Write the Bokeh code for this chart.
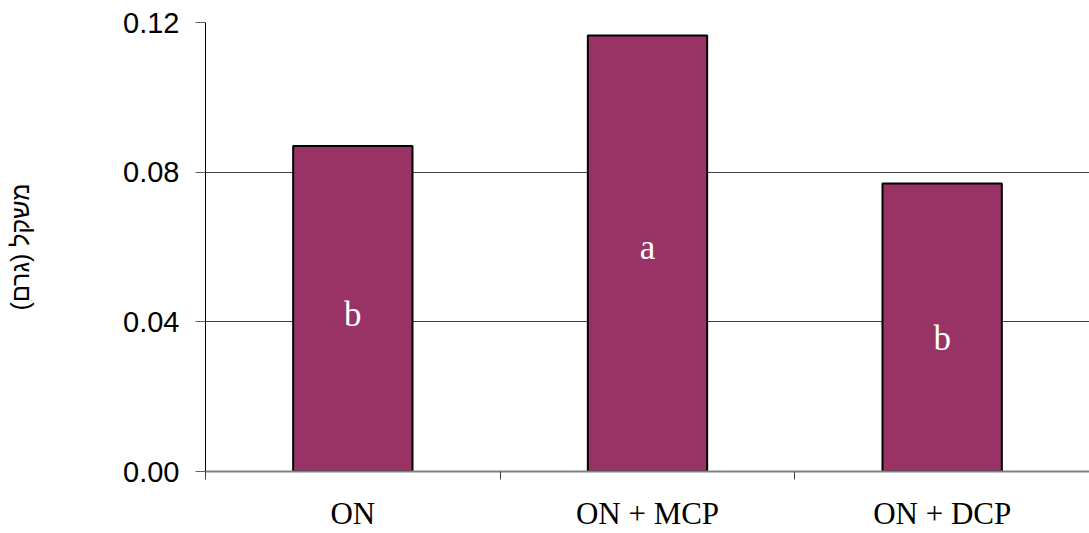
import numpy as np
from bokeh.plotting import figure
from bokeh.models import Range1d, FixedTicker, ColumnDataSource
from bokeh.core.properties import value
from bokeh.embed import file_html
from bokeh.resources import INLINE

# ---- data ----
categories = ["ON", "ON + MCP", "ON + DCP"]
weights = [0.087, 0.1165, 0.077]
letters = ["b", "a", "b"]
letter_y = [0.042, 0.060, 0.0355]
y_ticks = [0.0, 0.04, 0.08, 0.12]
y_label = "משקל (גרם)"

xpos = [i + 0.5 for i in range(len(categories))]

p = figure(width=1089, height=533, output_backend="svg", toolbar_location=None,
           x_range=Range1d(0, len(categories)), y_range=Range1d(0, 0.12),
           min_border_left=205, min_border_right=0, min_border_top=22, min_border_bottom=62)
p.outline_line_color = None
p.background_fill_color = "white"
p.border_fill_color = "white"

src = ColumnDataSource(dict(x=xpos, top=weights, ly=letter_y, lt=letters))
p.vbar(x="x", top="top", width=0.405, source=src, fill_color="#993366",
       line_color="black", line_width=2)
p.text(x="x", y="ly", text="lt", source=src, text_color="white",
       text_font=value("Liberation Serif"), text_font_size="35px",
       text_align="center", text_baseline="middle")

# x axis
p.xaxis.ticker = FixedTicker(ticks=xpos, minor_ticks=[0, 1, 2, 3])
p.xaxis.major_label_overrides = {x: c for x, c in zip(xpos, categories)}
p.xaxis.major_tick_line_color = None
p.xaxis.minor_tick_out = 8
p.xaxis.minor_tick_in = 0
p.xaxis.minor_tick_line_color = "#404040"
p.xaxis.axis_line_color = "#808080"
p.xaxis.axis_line_width = 2
p.xaxis.major_label_text_font = "Liberation Serif"
p.xaxis.major_label_text_font_size = "31px"
p.xaxis.major_label_text_color = "black"
p.xaxis.major_label_standoff = 16

# y axis
p.yaxis.ticker = FixedTicker(ticks=y_ticks)
p.yaxis.major_label_overrides = {t: f"{t:.2f}" for t in y_ticks}
p.yaxis.major_tick_out = 10
p.yaxis.major_tick_in = 0
p.yaxis.major_tick_line_color = "#606060"
p.yaxis.minor_tick_line_color = None
p.yaxis.axis_line_color = "black"
p.yaxis.axis_line_width = 1
p.yaxis.major_label_text_font = "Liberation Sans"
p.yaxis.major_label_text_font_size = "29px"
p.yaxis.major_label_text_color = "black"
p.yaxis.major_label_standoff = 16
p.yaxis.axis_label = y_label
p.yaxis.axis_label_text_font = "Liberation Sans"
p.yaxis.axis_label_text_font_size = "25px"
p.yaxis.axis_label_text_font_style = "normal"
p.yaxis.axis_label_text_color = "black"
p.yaxis.axis_label_standoff = 86

# grid
p.xgrid.grid_line_color = None
p.ygrid.ticker = FixedTicker(ticks=y_ticks)
p.ygrid.grid_line_color = "#404040"
p.ygrid.grid_line_width = 1

open("out.html", "w").write(file_html(p, INLINE))
